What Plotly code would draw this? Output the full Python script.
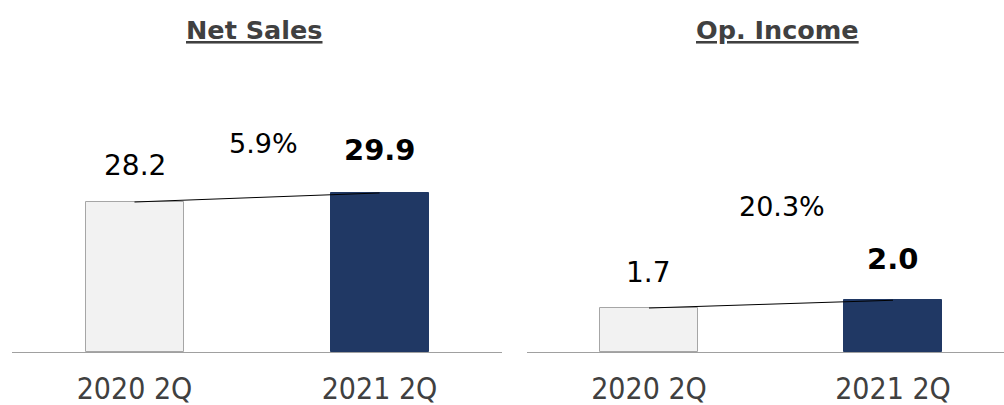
import plotly.graph_objects as go

periods = ["2020 2Q", "2021 2Q"]
net_sales = [28.2, 29.9]
op_income = [1.7, 2.0]
growth_labels = ["5.9%", "20.3%"]
panel_titles = ["Net Sales", "Op. Income"]

W, H = 1004, 405
base_px = 352
bar_colors = ["#f2f2f2", "#203864"]
bar_lines = ["#a6a6a6", "#203864"]

fig = go.Figure()

panels = [
    dict(vals=net_sales, xa="x", ya="y", xaxis="xaxis", yaxis="yaxis",
         dom=[12 / W, 502 / W], xr=[-0.5, 1.5], ymax=352 / (150 / 28.2),
         title_x=254, val_shift=[37, 43], g_shift=(6, 54), g_label=growth_labels[0]),
    dict(vals=op_income, xa="x2", ya="y2", xaxis="xaxis2", yaxis="yaxis2",
         dom=[527 / W, 1.0], xr=[-0.5, 1.455], ymax=352 / (44 / 1.7),
         title_x=777, val_shift=[36, 41], g_shift=(11, 98), g_label=growth_labels[1]),
]

annotations = []
for i, p in enumerate(panels):
    fig.add_trace(go.Bar(
        x=periods, y=p["vals"], width=0.4,
        marker=dict(color=bar_colors, line=dict(color=bar_lines, width=1)),
        xaxis=p["xa"], yaxis=p["ya"], showlegend=False, hoverinfo="skip"))
    fig.add_trace(go.Scatter(
        x=periods, y=p["vals"], mode="lines",
        line=dict(color="black", width=1),
        xaxis=p["xa"], yaxis=p["ya"], showlegend=False, hoverinfo="skip"))
    fig.update_layout(**{
        p["xaxis"]: dict(domain=p["dom"], range=p["xr"], type="category",
                         showgrid=False, showline=True, linecolor="#a0a0a0", linewidth=1,
                         ticks="", zeroline=False, ticklabelstandoff=10, automargin=False,
                         tickfont=dict(family="DejaVu Sans Condensed, DejaVu Sans", size=30,
                                       color="#404040"),
                         anchor=p["ya"], fixedrange=True),
        p["yaxis"]: dict(domain=[(H - base_px) / H, 1.0], range=[0, p["ymax"]],
                         visible=False, anchor=p["xa"], fixedrange=True, automargin=False),
    })
    for j, (cat, v) in enumerate(zip(periods, p["vals"])):
        txt = f"{v:.1f}"
        if j == 1:
            txt = f"<b>{txt}</b>"
        annotations.append(dict(
            x=cat, y=v, xref=p["xa"], yref=p["ya"], text=txt, showarrow=False,
            yshift=p["val_shift"][j], yanchor="middle",
            font=dict(family="DejaVu Sans", size=28 if j == 0 else 29, color="black")))
    annotations.append(dict(
        x=0.5, y=(p["vals"][0] + p["vals"][1]) / 2, xref=p["xa"], yref=p["ya"],
        text=p["g_label"], showarrow=False, xshift=p["g_shift"][0], yshift=p["g_shift"][1],
        yanchor="middle", font=dict(family="DejaVu Sans", size=27, color="black")))
    annotations.append(dict(
        x=p["title_x"] / W, y=1 - 30 / H, xref="paper", yref="paper",
        text=f"<b><u>{panel_titles[i]}</u></b>", showarrow=False,
        xanchor="center", yanchor="middle",
        font=dict(family="DejaVu Sans", size=25.5, color="#404040")))

fig.update_layout(
    width=W, height=H, margin=dict(l=0, r=0, t=0, b=0, autoexpand=False),
    paper_bgcolor="white", plot_bgcolor="white",
    annotations=annotations, bargap=0,
)

fig.write_html("out.html")
